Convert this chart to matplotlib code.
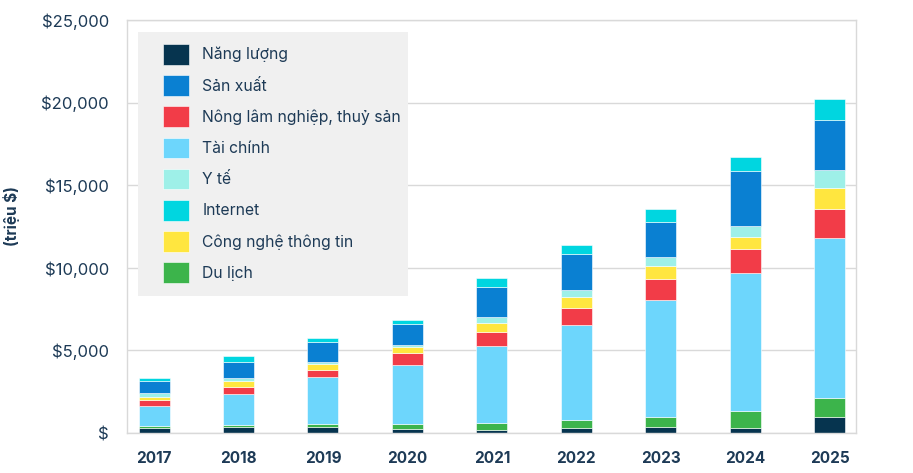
import numpy as np
import matplotlib
matplotlib.use("Agg")
import matplotlib.pyplot as plt
from matplotlib.patches import Rectangle, Patch
from matplotlib.ticker import FuncFormatter, MultipleLocator

plt.rcParams['font.family'] = ['Inter', 'DejaVu Sans']

years = ["2017", "2018", "2019", "2020", "2021", "2022", "2023", "2024", "2025"]

# values in million $, bottom to top of each stack
nang_luong = [300, 345, 345, 225, 200, 325, 385, 305, 950]
du_lich = [140, 160, 225, 325, 405, 445, 565, 1010, 1175]
tai_chinh = [1170, 1880, 2790, 3560, 4635, 5785, 7080, 8400, 9690]
nong_lam = [365, 425, 445, 710, 850, 990, 1295, 1395, 1740]
cntt = [225, 345, 345, 385, 565, 670, 770, 770, 1275]
y_te = [245, 200, 160, 140, 365, 445, 565, 625, 1115]
san_xuat = [705, 970, 1215, 1235, 1840, 2165, 2125, 3340, 3015]
internet = [205, 325, 200, 245, 525, 545, 770, 890, 1275]

# stacking order (bottom -> top)
stack = [
    ("Năng lượng", nang_luong, "#06344f"),
    ("Du lịch", du_lich, "#3cb44b"),
    ("Tài chính", tai_chinh, "#6dd6fc"),
    ("Nông lâm nghiệp, thuỷ sản", nong_lam, "#f23c48"),
    ("Công nghệ thông tin", cntt, "#ffe63f"),
    ("Y tế", y_te, "#9ef0e8"),
    ("Sản xuất", san_xuat, "#0a80d2"),
    ("Internet", internet, "#00d6e0"),
]
# legend order
legend_order = ["Năng lượng", "Sản xuất", "Nông lâm nghiệp, thuỷ sản", "Tài chính",
                "Y tế", "Internet", "Công nghệ thông tin", "Du lịch"]

navy = "#1d3a56"
grid_c = "#d9d9d9"

fig = plt.figure(figsize=(9.13, 4.73), dpi=100)
ax = fig.add_axes([127 / 913, 1 - 433 / 473, 729 / 913, 413 / 473])

x = np.arange(len(years))
bottom = np.zeros(len(years))
colors = {}
for name, vals, col in stack:
    ax.bar(x, vals, width=0.367, bottom=bottom, color=col, edgecolor="#ffffff",
           linewidth=0.4, zorder=2)
    bottom += np.array(vals)
    colors[name] = col

ax.set_xlim(-0.32, 8.31)
ax.set_ylim(0, 25000)
ax.yaxis.set_major_locator(MultipleLocator(5000))
ax.yaxis.set_major_formatter(FuncFormatter(lambda v, p: f"${v:,.0f}" if v else "$"))
ax.set_xticks(x)
ax.set_xticklabels(years, fontweight="bold", fontsize=11, color=navy)
ax.tick_params(axis="y", length=0, pad=13, labelsize=12, labelcolor=navy)
ax.tick_params(axis="x", length=0, pad=13)
ax.grid(axis="y", color=grid_c, linewidth=1)
ax.set_axisbelow(True)
for s in ax.spines.values():
    s.set_color(grid_c)
    s.set_linewidth(1)

# legend background box
box = Rectangle((138, 473 - 296), 270, 264, transform=None, facecolor="#f0f0f0",
                edgecolor="none", zorder=1)
ax.add_artist(box)
box.set_clip_on(False)

handles = [Patch(facecolor=colors[n], edgecolor="#ffffff", linewidth=0.4) for n in legend_order]
leg = ax.legend(handles, legend_order, loc="upper left",
                bbox_to_anchor=((163 - 127) / 729, (433 - 44) / 413), borderaxespad=0,
                borderpad=0, frameon=False, fontsize=11.3, handlelength=1.65,
                handleheight=1.65, handletextpad=0.85, labelspacing=0.67)
for t in leg.get_texts():
    t.set_color(navy)

fig.text(12 / 913, 1 - 216 / 473, "(triệu $)", rotation=90, ha="center", va="center",
         fontsize=11, fontweight="bold", color=navy)

fig.savefig("out.png", dpi=100)
